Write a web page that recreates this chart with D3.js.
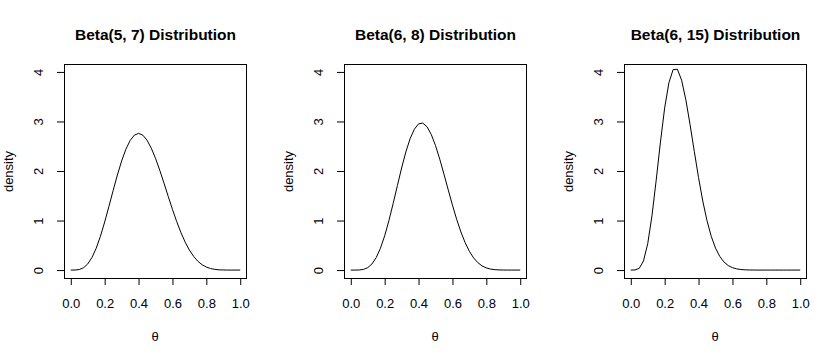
<!DOCTYPE html>
<html>
<head>
<meta charset="utf-8">
<script src="https://cdn.jsdelivr.net/npm/d3@7"></script>
<style>
  body { margin: 0; background: #ffffff; }
  text { font-family: Arial, "Liberation Sans", sans-serif; }
</style>
</head>
<body>
<div class="chart"></div>
<script>
// theta grid the densities were read at
var theta = [0, 0.025, 0.05, 0.075, 0.1, 0.125, 0.15, 0.175, 0.2, 0.225,
             0.25, 0.275, 0.3, 0.325, 0.35, 0.375, 0.4, 0.425, 0.45, 0.475,
             0.5, 0.525, 0.55, 0.575, 0.6, 0.625, 0.65, 0.675, 0.7, 0.725,
             0.75, 0.775, 0.8, 0.825, 0.85, 0.875, 0.9, 0.925, 0.95, 0.975, 1];

// density values, one list per panel
var beta57 = [0, 0.001, 0.011, 0.046, 0.123, 0.253, 0.441, 0.683, 0.969, 1.283,
              1.606, 1.919, 2.201, 2.438, 2.614, 2.723, 2.759, 2.724, 2.622, 2.462,
              2.256, 2.016, 1.755, 1.488, 1.226, 0.980, 0.758, 0.565, 0.404, 0.276,
              0.178, 0.108, 0.061, 0.031, 0.014, 0.005, 0.002, 0.0003, 0, 0, 0];

var beta68 = [0, 0.0001, 0.002, 0.014, 0.049, 0.123, 0.251, 0.440, 0.691, 0.997,
              1.342, 1.705, 2.061, 2.384, 2.651, 2.844, 2.951, 2.967, 2.893, 2.737,
              2.514, 2.240, 1.936, 1.621, 1.312, 1.024, 0.769, 0.553, 0.379, 0.245,
              0.149, 0.084, 0.043, 0.020, 0.008, 0.003, 0.001, 0.0001, 0, 0, 0];

var beta615 = [0, 0.002, 0.035, 0.185, 0.532, 1.095, 1.815, 2.583, 3.273, 3.782,
               4.047, 4.054, 3.833, 3.437, 2.935, 2.393, 1.866, 1.393, 0.995, 0.680,
               0.444, 0.276, 0.163, 0.092, 0.049, 0.024, 0.011, 0.005, 0.002, 0.0007,
               0.0002, 0.0001, 0, 0, 0, 0, 0, 0, 0, 0, 0];

var titles = ["Beta(5, 7) Distribution", "Beta(6, 8) Distribution", "Beta(6, 15) Distribution"];
var xTickValues = [0, 0.2, 0.4, 0.6, 0.8, 1.0];
var xTickLabels = ["0.0", "0.2", "0.4", "0.6", "0.8", "1.0"];
var yTickValues = [0, 1, 2, 3, 4];
var yTickLabels = ["0", "1", "2", "3", "4"];

var series = [beta57, beta68, beta615];

var canvas = d3.select(".chart").append("svg")
    .attr("width", 840)
    .attr("height", 360);

// R style: limits padded by 4% on each side
var x = d3.scaleLinear().domain([-0.04, 1.04]).range([64, 247]);
var y = d3.scaleLinear().domain([-0.16, 4.16]).range([278, 64]);

var line = d3.line()
    .x(function (d, i) { return x(theta[i]); })
    .y(function (d) { return y(d); });

var panels = canvas.selectAll("g.panel")
    .data(series)
    .enter()
        .append("g")
        .attr("class", "panel")
        .attr("transform", function (d, i) { return "translate(" + (i * 280) + ",0)"; });

panels.each(function (d, i)
{
    var g = d3.select(this);

    g.append("rect")
        .attr("x", 64.5)
        .attr("y", 64.5)
        .attr("width", 182)
        .attr("height", 214)
        .attr("fill", "none")
        .attr("stroke", "#000")
        .attr("stroke-width", 1);

    g.append("path")
        .datum(d)
        .attr("d", line)
        .attr("fill", "none")
        .attr("stroke", "#000")
        .attr("stroke-width", 1);

    var xa = g.append("g")
        .attr("transform", "translate(0,278)")
        .call(d3.axisBottom(x)
            .tickValues(xTickValues)
            .tickFormat(function (v, k) { return xTickLabels[k]; })
            .tickSize(7)
            .tickPadding(14));
    xa.select(".domain").remove();
    xa.attr("font-family", null).attr("font-size", 13);
    xa.selectAll("text").attr("fill", "#000");
    xa.selectAll("line").attr("stroke", "#000");

    var ya = g.append("g")
        .attr("transform", "translate(64,0)")
        .call(d3.axisLeft(y)
            .tickValues(yTickValues)
            .tickFormat(function (v, k) { return yTickLabels[k]; })
            .tickSize(7));
    ya.select(".domain").remove();
    ya.attr("font-family", null).attr("font-size", 13);
    ya.selectAll("line").attr("stroke", "#000");
    ya.selectAll("text")
        .attr("fill", "#000")
        .attr("transform", "rotate(-90)")
        .attr("text-anchor", "middle")
        .attr("x", 0)
        .attr("y", -25.3)
        .attr("dy", "0.36em");

    g.append("text")
        .attr("x", 155.5)
        .attr("y", 39.5)
        .attr("text-anchor", "middle")
        .attr("font-size", 15.5)
        .attr("font-weight", "bold")
        .text(titles[i]);

    g.append("text")
        .attr("x", 155)
        .attr("y", 340.5)
        .attr("text-anchor", "middle")
        .attr("font-size", 13)
        .text("θ");

    g.append("text")
        .attr("transform", "rotate(-90)")
        .attr("x", -171.5)
        .attr("y", 12.5)
        .attr("text-anchor", "middle")
        .attr("font-size", 13)
        .text("density");
});
</script>
</body>
</html>
